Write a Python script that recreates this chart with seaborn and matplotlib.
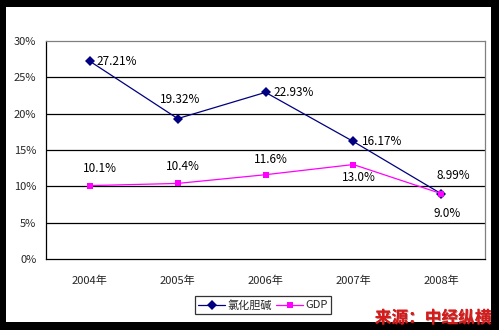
import matplotlib
matplotlib.use("Agg")
import matplotlib.pyplot as plt
import matplotlib.patheffects as pe
from matplotlib.patches import Rectangle
from matplotlib.lines import Line2D
import seaborn as sns
import pandas as pd

sns.set_theme(style="white")
plt.rcParams['font.family'] = ['Noto Sans CJK SC', 'DejaVu Sans']

years = ["2004年", "2005年", "2006年", "2007年", "2008年"]
choline = [27.21, 19.32, 22.93, 16.17, 8.99]
gdp = [10.1, 10.4, 11.6, 13.0, 9.0]
choline_labels = ["27.21%", "19.32%", "22.93%", "16.17%", "8.99%"]
gdp_labels = ["10.1%", "10.4%", "11.6%", "13.0%", "9.0%"]
yticks = [0, 5, 10, 15, 20, 25, 30]
series_names = ["氯化胆碱", "GDP"]

W, H = 499, 330
fig = plt.figure(figsize=(W / 100, H / 100), dpi=100, facecolor="black")
fig.patches.append(Rectangle((6 / W, 8 / H), 485 / W, 315 / H, transform=fig.transFigure,
                             facecolor="white", edgecolor="none", zorder=-5))

ax = fig.add_axes([46 / W, (H - 259) / H, (485 - 46) / W, (259 - 41) / H])
ax.set_facecolor("white")

df = pd.DataFrame({
    "x": list(range(len(years))) * 2,
    "value": choline + gdp,
    "series": [series_names[0]] * len(years) + [series_names[1]] * len(years),
})
palette = {series_names[0]: "#000080", series_names[1]: "#FF00FF"}
sns.lineplot(data=df, x="x", y="value", hue="series", style="series",
             markers={series_names[0]: "D", series_names[1]: "s"},
             dashes=False, palette=palette, lw=0.9, ax=ax, legend=False,
             markersize=5, markeredgewidth=0, zorder=3)

ax.set_xlim(-0.5, len(years) - 0.5)
ax.set_ylim(0, 30)
ax.set_yticks(yticks)
ax.set_yticklabels([f"{v}%" for v in yticks], fontsize=8)
ax.set_xticks(range(len(years)))
ax.set_xticklabels(years, fontsize=8)
ax.set_xticks([i + 0.5 for i in range(-1, len(years))], minor=True)
ax.tick_params(axis="x", which="major", length=0, pad=12)
ax.tick_params(axis="x", which="minor", length=4, width=0.8, color="black", direction="out")
ax.tick_params(axis="y", length=0, pad=7)
ax.set_xlabel("")
ax.set_ylabel("")
for v in yticks[1:-1]:
    ax.axhline(v, color="black", lw=0.9, zorder=1)

for s in ["left", "bottom"]:
    ax.spines[s].set_color("black")
    ax.spines[s].set_linewidth(0.9)
for s in ["top", "right"]:
    ax.spines[s].set_color("#808080")
    ax.spines[s].set_linewidth(0.9)

# data labels (offsets in points)
choline_off = [(5, 0, "left", "center"), (2, 14, "center", "center"), (6, 0, "left", "center"),
               (6, 0, "left", "center"), (9, 13, "center", "center")]
gdp_off = [(7, 12, "center", "center"), (4, 12, "center", "center"), (4, 11, "center", "center"),
           (4, -9, "center", "center"), (4, -14, "center", "center")]
for i, (v, t) in enumerate(zip(choline, choline_labels)):
    dx, dy, ha, va = choline_off[i]
    ax.annotate(t, (i, v), xytext=(dx, dy), textcoords="offset points",
                ha=ha, va=va, fontsize=8.5, color="black")
for i, (v, t) in enumerate(zip(gdp, gdp_labels)):
    dx, dy, ha, va = gdp_off[i]
    ax.annotate(t, (i, v), xytext=(dx, dy), textcoords="offset points",
                ha=ha, va=va, fontsize=8.5, color="black")

handles = [
    Line2D([], [], color="#000080", marker="D", markersize=5, lw=0.9, markeredgewidth=0),
    Line2D([], [], color="#FF00FF", marker="s", markersize=5, lw=0.9, markeredgewidth=0),
]
leg = fig.legend(handles, series_names, loc="center", bbox_to_anchor=(263 / W, (H - 305) / H),
                 ncol=2, fontsize=8, frameon=True, fancybox=False, handlelength=2.4,
                 handletextpad=0.2, columnspacing=0.4, borderpad=0.3)
leg.get_frame().set_edgecolor("black")
leg.get_frame().set_linewidth(0.9)

fig.text(433 / W, (H - 318) / H, "来源：中经纵横", fontsize=12, fontweight="bold",
         color="#d41c1c", ha="center", va="center",
         path_effects=[pe.withSimplePatchShadow(offset=(0.7, -0.7), shadow_rgbFace="#600000", alpha=0.4),
                       pe.Normal()])

fig.savefig("out.png", dpi=100, facecolor=fig.get_facecolor())
